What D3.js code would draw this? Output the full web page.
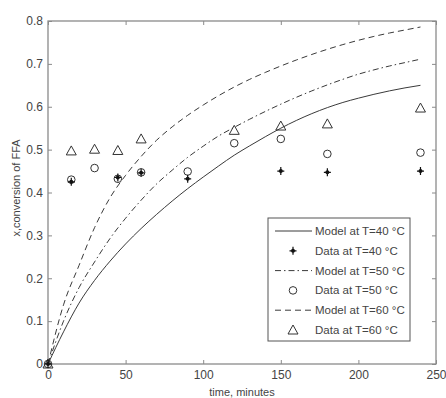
<!DOCTYPE html>
<html>
<head>
<meta charset="utf-8">
<script src="https://cdn.jsdelivr.net/npm/d3@7"></script>
<style>
    body { margin: 0; background: #fff; }
    svg text { font-family: "Liberation Sans", Arial, sans-serif; fill: #444; }
</style>
</head>
<body>
<svg width="446" height="398"></svg>
<script>
/****** DATA ******/

// time grid of the model curves (minutes)
var modelTime = [0, 10, 20, 30, 40, 50, 60, 70, 80, 90, 100, 110, 120,
                 130, 140, 150, 160, 170, 180, 190, 200, 210, 220, 230, 240];
var model40 = [0, 0.075, 0.142, 0.195, 0.240, 0.280, 0.316, 0.349, 0.380, 0.409, 0.436, 0.462, 0.487,
               0.509, 0.530, 0.550, 0.568, 0.584, 0.598, 0.610, 0.620, 0.629, 0.637, 0.644, 0.650];
var model50 = [0, 0.100, 0.178, 0.238, 0.293, 0.340, 0.382, 0.420, 0.452, 0.482, 0.508, 0.532, 0.552,
               0.571, 0.589, 0.606, 0.622, 0.637, 0.651, 0.664, 0.676, 0.686, 0.695, 0.703, 0.711];
var model60 = [0, 0.138, 0.230, 0.318, 0.388, 0.440, 0.484, 0.522, 0.553, 0.580, 0.604, 0.626, 0.646,
               0.664, 0.680, 0.695, 0.709, 0.722, 0.734, 0.745, 0.755, 0.764, 0.772, 0.779, 0.786];

// measured points
var data40Time = [0, 15, 45, 60, 90, 150, 180, 240];
var data40 = [0, 0.425, 0.435, 0.446, 0.432, 0.450, 0.447, 0.450];
var data50Time = [0, 15, 30, 45, 60, 90, 120, 150, 180, 240];
var data50 = [0, 0.430, 0.457, 0.432, 0.447, 0.449, 0.515, 0.525, 0.490, 0.493];
var data60Time = [0, 15, 30, 45, 60, 120, 150, 180, 240];
var data60 = [0, 0.497, 0.501, 0.498, 0.525, 0.545, 0.555, 0.560, 0.597];

var xTicks = [0, 50, 100, 150, 200, 250];
var yTicks = [0, 0.1, 0.2, 0.3, 0.4, 0.5, 0.6, 0.7, 0.8];
var legendLabels = ["Model at T=40 °C", "Data at T=40 °C", "Model at T=50 °C",
                    "Data at T=50 °C", "Model at T=60 °C", "Data at T=60 °C"];

/****** SETUP ******/

var svg = d3.select("svg");
var plot = {left: 48, right: 436, top: 21, bottom: 364};
var axisColor = "#8a8a8a", lineColor = "#3a3a3a";

var x = d3.scaleLinear().domain([0, 250]).range([plot.left, plot.right]);
var y = d3.scaleLinear().domain([0, 0.8]).range([plot.bottom, plot.top]);

function yFmt(d) { return d === 0 ? "0" : d3.format(".1f")(d); }

// axes, MATLAB style: ticks point inward on all four sides
function styleAxis(g) {
    g.select(".domain").remove();
    g.selectAll("line").attr("stroke", axisColor);
    g.selectAll("text").style("font-size", "12px").attr("fill", "#444");
}

svg.append("g")
    .attr("transform", "translate(0," + plot.bottom + ")")
    .call(d3.axisBottom(x).tickValues(xTicks).tickSize(-4).tickPadding(6))
    .call(styleAxis);
svg.append("g")
    .attr("transform", "translate(0," + plot.top + ")")
    .call(d3.axisTop(x).tickValues(xTicks).tickSize(-4).tickFormat(""))
    .call(styleAxis);
svg.append("g")
    .attr("transform", "translate(" + plot.left + ",0)")
    .call(d3.axisLeft(y).tickValues(yTicks).tickSize(-4).tickPadding(5).tickFormat(yFmt))
    .call(styleAxis);
svg.append("g")
    .attr("transform", "translate(" + plot.right + ",0)")
    .call(d3.axisRight(y).tickValues(yTicks).tickSize(-4).tickFormat(""))
    .call(styleAxis);

// frame
svg.append("rect")
    .attr("x", plot.left).attr("y", plot.top)
    .attr("width", plot.right - plot.left).attr("height", plot.bottom - plot.top)
    .attr("fill", "none").attr("stroke", axisColor).attr("stroke-width", 1.3);

// axis titles
svg.append("text")
    .attr("text-anchor", "middle")
    .attr("x", (plot.left + plot.right) / 2).attr("y", 396)
    .style("font-size", "11px")
    .text("time, minutes");
svg.append("text")
    .attr("text-anchor", "middle")
    .attr("transform", "translate(20,188)rotate(-90)")
    .style("font-size", "11px")
    .text("x,conversion of FFA");

/****** CURVES ******/

var dashes = [null, "6,3,1.5,3", "6,4"];
var models = [model40, model50, model60];

var line = d3.line()
    .x(function(d, i) { return x(modelTime[i]); })
    .y(function(d) { return y(d); })
    .curve(d3.curveMonotoneX);

models.forEach(function(m, i) {
    svg.append("path")
        .datum(m)
        .attr("d", line)
        .attr("fill", "none")
        .attr("stroke", lineColor)
        .attr("stroke-width", 1)
        .attr("stroke-dasharray", dashes[i]);
});

/****** MARKERS ******/

function star(g, cx, cy) {
    g.append("path")
        .attr("d", "M" + (cx - 3.5) + "," + cy + "h7M" + cx + "," + (cy - 4) + "v8")
        .attr("stroke", "#111").attr("stroke-width", 1.2);
    g.append("circle").attr("cx", cx).attr("cy", cy).attr("r", 2).attr("fill", "#111");
}
function ring(g, cx, cy) {
    g.append("circle").attr("cx", cx).attr("cy", cy).attr("r", 3.8)
        .attr("fill", "none").attr("stroke", "#333").attr("stroke-width", 1);
}
function tri(g, cx, cy) {
    g.append("path")
        .attr("d", "M" + cx + "," + (cy - 5) + "L" + (cx + 5) + "," + (cy + 4) + "L" + (cx - 5) + "," + (cy + 4) + "Z")
        .attr("fill", "none").attr("stroke", "#333").attr("stroke-width", 1);
}

var pts = svg.append("g");
data60.forEach(function(v, i) { tri(pts, x(data60Time[i]), y(v)); });
data50.forEach(function(v, i) { ring(pts, x(data50Time[i]), y(v)); });
data40.forEach(function(v, i) { star(pts, x(data40Time[i]), y(v)); });

/****** LEGEND ******/

var lg = svg.append("g").attr("transform", "translate(268,218)");
lg.append("rect")
    .attr("width", 142).attr("height", 123)
    .attr("fill", "#fff").attr("stroke", "#555").attr("stroke-width", 1);

var markers = [star, ring, tri];
legendLabels.forEach(function(label, i) {
    var cy = 13 + i * 19.8;
    if (i % 2 === 0) {
        lg.append("line")
            .attr("x1", 7).attr("x2", 44).attr("y1", cy).attr("y2", cy)
            .attr("stroke", lineColor).attr("stroke-width", 1)
            .attr("stroke-dasharray", dashes[i / 2]);
    } else {
        markers[(i - 1) / 2](lg, 25, cy);
    }
    lg.append("text")
        .attr("x", 47).attr("y", cy).attr("dy", "0.35em")
        .style("font-size", "11.5px")
        .text(label);
});
</script>
</body>
</html>
